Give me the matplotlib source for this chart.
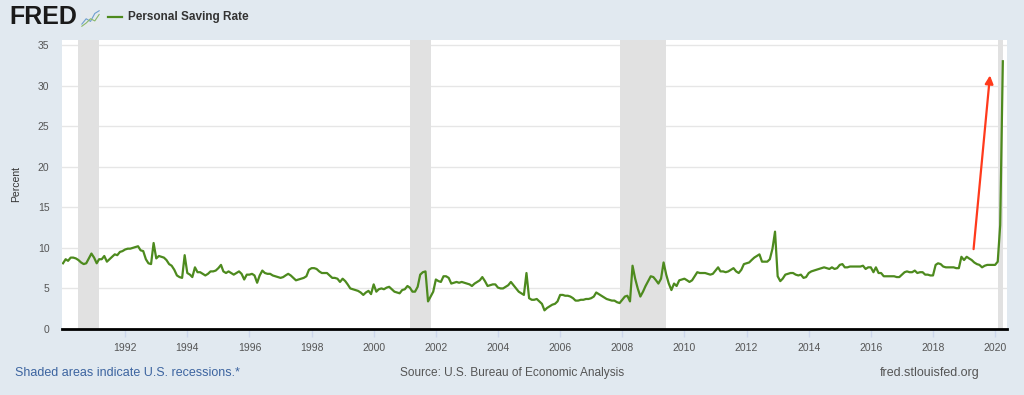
import matplotlib
matplotlib.use("Agg")
import matplotlib.pyplot as plt
import matplotlib.dates as mdates
import pandas as pd


# Personal saving rate, monthly, percent
saving_1990s = [
    8.1, 8.6, 8.4, 8.8, 8.8, 8.7, 8.5, 8.2, 8.0, 8.1, 8.7, 9.3,      # 1990
    8.8, 8.1, 8.6, 8.6, 9.0, 8.3, 8.6, 8.9, 9.2, 9.1, 9.5, 9.6,      # 1991
    9.8, 9.9, 9.9, 10.0, 10.1, 10.2, 9.7, 9.6, 8.6, 8.1, 8.0, 10.6,  # 1992
    8.7, 9.0, 8.9, 8.8, 8.5, 8.0, 7.8, 7.3, 6.6, 6.4, 6.3, 9.1,      # 1993
    6.9, 6.7, 6.4, 7.6, 7.0, 7.0, 6.8, 6.6, 6.8, 7.1, 7.1, 7.2,      # 1994
    7.5, 7.9, 7.1, 6.9, 7.1, 6.9, 6.7, 6.9, 7.1, 6.8, 6.1, 6.7,      # 1995
    6.7, 6.8, 6.6, 5.7, 6.6, 7.2, 6.9, 6.8, 6.8, 6.6, 6.5, 6.4,      # 1996
    6.3, 6.4, 6.6, 6.8, 6.6, 6.3, 6.0, 6.1, 6.2, 6.3, 6.5, 7.3,      # 1997
    7.5, 7.5, 7.4, 7.1, 6.9, 6.9, 6.9, 6.6, 6.3, 6.3, 6.2, 5.8,      # 1998
    6.2, 5.9, 5.5, 5.0, 4.9, 4.8, 4.7, 4.5, 4.2, 4.5, 4.7, 4.3,      # 1999
]
saving_2000s = [
    5.5, 4.6, 4.9, 5.0, 4.9, 5.1, 5.2, 4.9, 4.6, 4.5, 4.4, 4.8,      # 2000
    4.9, 5.3, 5.1, 4.6, 4.6, 5.2, 6.7, 7.0, 7.1, 3.4, 4.0, 4.6,      # 2001
    6.1, 5.9, 5.8, 6.5, 6.5, 6.3, 5.6, 5.7, 5.8, 5.7, 5.8, 5.7,      # 2002
    5.6, 5.5, 5.3, 5.6, 5.8, 6.0, 6.4, 5.9, 5.3, 5.4, 5.5, 5.5,      # 2003
    5.1, 5.0, 5.0, 5.2, 5.4, 5.8, 5.4, 5.0, 4.6, 4.4, 4.2, 6.9,      # 2004
    3.8, 3.6, 3.6, 3.7, 3.4, 3.1, 2.3, 2.6, 2.8, 3.0, 3.1, 3.4,      # 2005
    4.2, 4.2, 4.1, 4.1, 4.0, 3.8, 3.5, 3.5, 3.6, 3.6, 3.7, 3.7,      # 2006
    3.8, 4.0, 4.5, 4.3, 4.1, 3.9, 3.7, 3.6, 3.5, 3.5, 3.3, 3.2,      # 2007
    3.6, 4.0, 4.1, 3.4, 7.8, 6.2, 5.0, 4.0, 4.6, 5.3, 5.9, 6.5,      # 2008
    6.4, 6.0, 5.6, 6.2, 8.2, 6.7, 5.6, 4.8, 5.6, 5.3, 6.0, 6.1,      # 2009
]
saving_2010s = [
    6.2, 6.0, 5.8, 6.0, 6.5, 7.0, 6.9, 6.9, 6.9, 6.8, 6.7, 6.8,      # 2010
    7.2, 7.6, 7.1, 7.1, 7.0, 7.1, 7.3, 7.5, 7.1, 6.9, 7.3, 8.0,      # 2011
    8.1, 8.2, 8.5, 8.8, 9.0, 9.2, 8.3, 8.3, 8.3, 8.6, 9.9, 12.0,     # 2012
    6.5, 5.9, 6.2, 6.7, 6.8, 6.9, 6.9, 6.7, 6.6, 6.7, 6.3, 6.4,      # 2013
    6.9, 7.1, 7.2, 7.3, 7.4, 7.5, 7.6, 7.5, 7.4, 7.6, 7.4, 7.5,      # 2014
    7.9, 8.0, 7.6, 7.6, 7.7, 7.7, 7.7, 7.7, 7.7, 7.8, 7.4, 7.6,      # 2015
    7.6, 7.0, 7.6, 6.9, 6.9, 6.5, 6.5, 6.5, 6.5, 6.5, 6.4, 6.4,      # 2016
    6.7, 7.0, 7.1, 7.0, 7.0, 7.2, 6.9, 7.0, 7.0, 6.7, 6.7, 6.6,      # 2017
    6.6, 7.9, 8.1, 8.0, 7.7, 7.6, 7.6, 7.6, 7.6, 7.5, 7.5, 8.9,      # 2018
    8.5, 8.9, 8.7, 8.5, 8.2, 8.0, 7.9, 7.6, 7.8, 7.9, 7.9, 7.9,      # 2019
]
saving_2020 = [7.9, 8.3, 12.8, 33.0]

recession_start = ["1990-07-01", "2001-03-01", "2007-12-01", "2020-02-01"]
recession_end = ["1991-03-01", "2001-11-01", "2009-06-01", "2020-04-01"]
tick_years = list(range(1992, 2021, 2))
y_ticks = [0, 5, 10, 15, 20, 25, 30, 35]

values = saving_1990s + saving_2000s + saving_2010s + saving_2020
dates = pd.date_range("1990-01-01", periods=len(values), freq="MS")

BG = "#e1e9f0"
GREEN = "#4d8a1e"
plt.rcParams["font.family"] = ["Liberation Sans", "DejaVu Sans"]

fig = plt.figure(figsize=(10.24, 3.95), dpi=100, facecolor=BG)
ax = fig.add_axes([62 / 1024, 66 / 395, (1007 - 62) / 1024, (329 - 40) / 395])
ax.set_facecolor("white")

for s, e in zip(recession_start, recession_end):
    ax.axvspan(pd.Timestamp(s), pd.Timestamp(e), color="#e1e1e1", lw=0, zorder=1)

ax.plot(dates, values, color=GREEN, lw=1.6, zorder=3, solid_joinstyle="round")

ax.set_ylim(0, 35.62)
ax.set_xlim(pd.Timestamp("1989-12-20"), pd.Timestamp("2020-05-20"))
ax.set_yticks(y_ticks)
ax.yaxis.grid(True, color="#e6e6e6", lw=1)
ax.set_axisbelow(True)
ax.set_xticks([pd.Timestamp(f"{y}-01-01") for y in tick_years])
ax.xaxis.set_major_formatter(mdates.DateFormatter("%Y"))
ax.tick_params(axis="x", colors="#ccd6eb", length=6, width=1, labelcolor="#555555",
               labelsize=7.5, pad=4)
ax.tick_params(axis="y", length=0, labelcolor="#555555", labelsize=7.5, pad=9)
for side in ["top", "right", "left"]:
    ax.spines[side].set_visible(False)
ax.spines["bottom"].set_color("black")
ax.spines["bottom"].set_linewidth(2)
ax.set_ylabel("Percent", fontsize=7.5, color="#333333", labelpad=12)

# red annotation arrow
ax.annotate("", xy=(pd.Timestamp("2019-11-05"), 31.6), xytext=(pd.Timestamp("2019-04-20"), 9.5),
            arrowprops=dict(arrowstyle="-|>", color="#ff3a1c", lw=1.6, mutation_scale=12))

# header
fig.text(9 / 1024, 1 - 17 / 395, "FRED", fontsize=18, fontweight="heavy", color="#1a1a1a",
         va="center", ha="left")
icon = fig.add_axes([81 / 1024, 1 - 27 / 395, 19 / 1024, 17 / 395])
icon.set_facecolor("#e4e9ee")
icon.plot([0, 1, 2, 3, 4], [1, 2, 1.5, 3, 3.5], color="#6f9fd0", lw=0.8)
icon.plot([0, 1, 2, 3, 4], [0.6, 1.2, 2.0, 1.6, 2.8], color="#8ab86a", lw=0.8)
icon.set_xticks([])
icon.set_yticks([])
for sp in icon.spines.values():
    sp.set_visible(False)
fig.add_artist(plt.Line2D([108 / 1024, 122 / 1024], [1 - 17 / 395] * 2, color=GREEN, lw=1.6))
fig.text(128 / 1024, 1 - 17 / 395, "Personal Saving Rate", fontsize=8.5, fontweight="bold",
         color="#333333", va="center", ha="left")

# footer
fig.text(15 / 1024, 1 - 373 / 395, "Shaded areas indicate U.S. recessions.*", fontsize=9,
         color="#3c64a0", va="center", ha="left")
fig.text(400 / 1024, 1 - 373 / 395, "Source: U.S. Bureau of Economic Analysis", fontsize=8.6,
         color="#555555", va="center", ha="left")
fig.text(980 / 1024, 1 - 373 / 395, "fred.stlouisfed.org", fontsize=9,
         color="#555555", va="center", ha="right")

fig.savefig("out.png", dpi=100, facecolor=BG)
